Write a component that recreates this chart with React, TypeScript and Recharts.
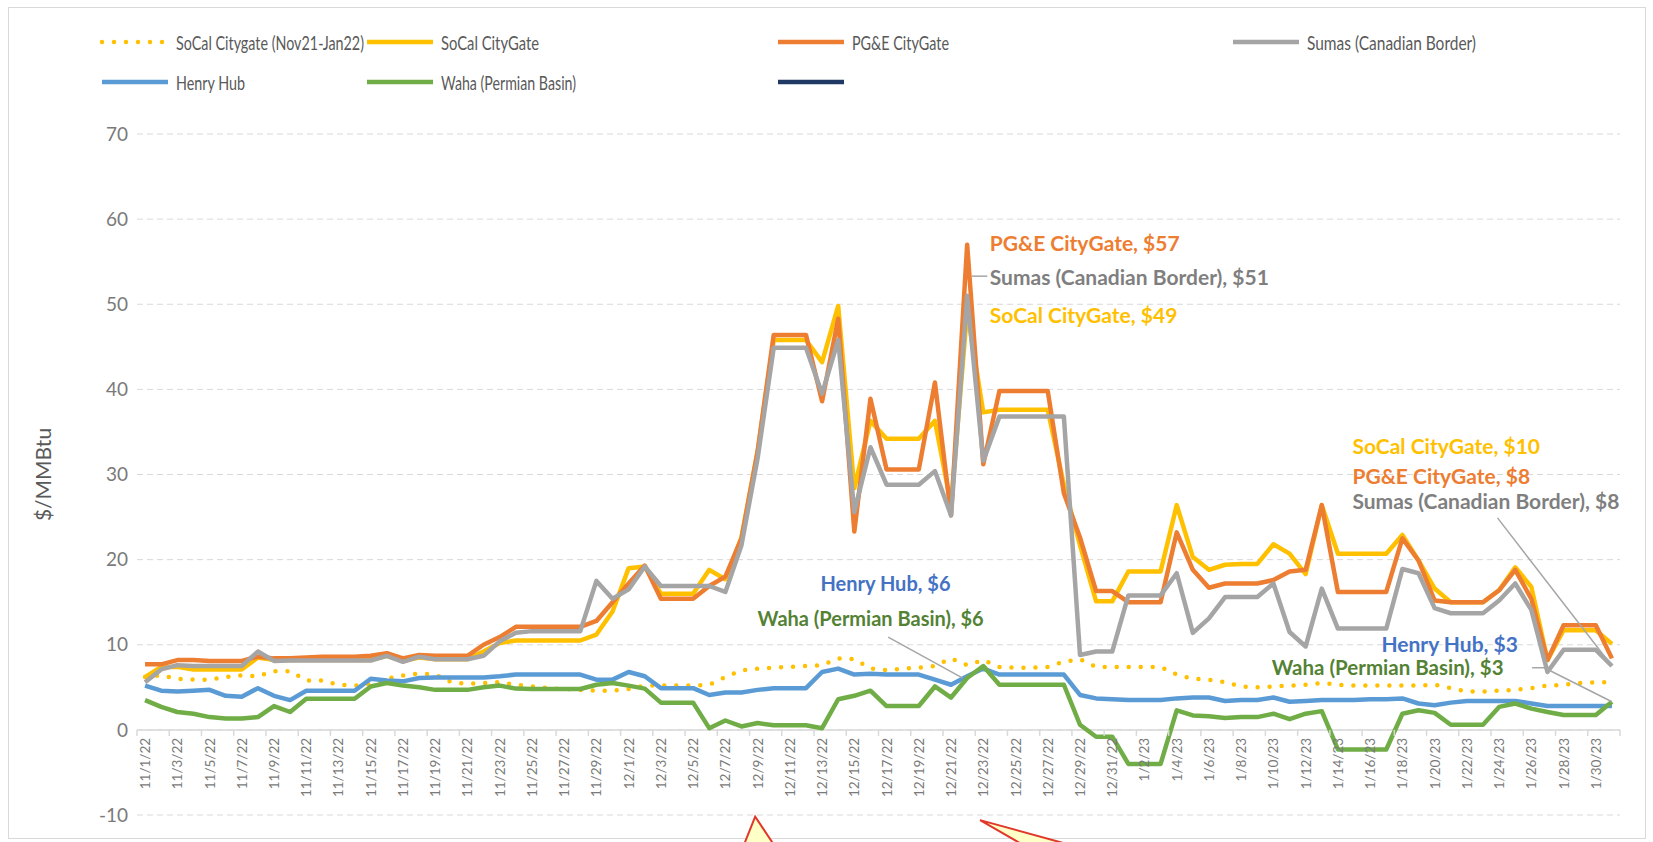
import React from 'react';
import { LineChart, Line, XAxis, YAxis, CartesianGrid, ReferenceLine, ReferenceDot } from 'recharts';

const dates = [
  '11/1/22','11/2/22','11/3/22','11/4/22','11/5/22','11/6/22','11/7/22','11/8/22','11/9/22','11/10/22',
  '11/11/22','11/12/22','11/13/22','11/14/22','11/15/22','11/16/22','11/17/22','11/18/22','11/19/22','11/20/22',
  '11/21/22','11/22/22','11/23/22','11/24/22','11/25/22','11/26/22','11/27/22','11/28/22','11/29/22','11/30/22',
  '12/1/22','12/2/22','12/3/22','12/4/22','12/5/22','12/6/22','12/7/22','12/8/22','12/9/22','12/10/22',
  '12/11/22','12/12/22','12/13/22','12/14/22','12/15/22','12/16/22','12/17/22','12/18/22','12/19/22','12/20/22',
  '12/21/22','12/22/22','12/23/22','12/24/22','12/25/22','12/26/22','12/27/22','12/28/22','12/29/22','12/30/22',
  '12/31/22','1/1/23','1/2/23','1/3/23','1/4/23','1/5/23','1/6/23','1/7/23','1/8/23','1/9/23',
  '1/10/23','1/11/23','1/12/23','1/13/23','1/14/23','1/15/23','1/16/23','1/17/23','1/18/23','1/19/23',
  '1/20/23','1/21/23','1/22/23','1/23/23','1/24/23','1/25/23','1/26/23','1/27/23','1/28/23','1/29/23',
  '1/30/23','1/31/23',
];

const socalPrior = [
  6.2,6.4,6.0,5.9,5.9,6.2,6.4,6.3,6.9,6.9,
  5.8,5.8,5.3,5.2,5.4,6.0,6.4,6.6,6.5,5.6,
  5.4,5.5,5.6,5.3,5.1,4.9,4.8,4.7,4.6,4.6,
  4.8,5.2,5.2,5.2,5.2,5.3,6.2,7.0,7.2,7.3,
  7.4,7.5,7.6,8.4,8.3,7.2,7.0,7.2,7.3,7.5,
  8.4,7.6,8.2,7.4,7.3,7.3,7.4,8.0,8.3,7.4,
  7.4,7.4,7.4,7.4,6.5,6.0,5.9,5.6,5.1,5.0,
  5.1,5.2,5.3,5.5,5.3,5.2,5.2,5.2,5.2,5.2,
  5.3,4.9,4.5,4.5,4.6,4.7,4.9,5.2,5.3,5.5,
  5.6,5.6,
];

const socal = [
  6.2,7.4,7.4,7.1,7.1,7.1,7.1,8.5,8.2,8.2,
  8.2,8.2,8.2,8.2,8.2,8.7,8.1,8.5,8.3,8.3,
  8.3,9.2,10.2,10.5,10.5,10.5,10.5,10.5,11.2,13.9,
  19.0,19.2,16.0,16.0,16.0,18.8,17.7,22.6,32.7,45.8,
  45.8,45.8,43.2,49.8,28.4,36.3,34.2,34.2,34.2,36.3,
  26.4,49.2,37.3,37.6,37.6,37.6,37.6,28.8,21.7,15.1,
  15.1,18.6,18.6,18.6,26.4,20.3,18.8,19.4,19.5,19.5,
  21.8,20.7,18.3,26.4,20.7,20.7,20.7,20.7,22.9,19.9,
  16.6,15.0,15.0,15.0,16.4,19.1,16.8,8.2,11.7,11.7,
  11.7,10.1,
];

const pge = [
  7.7,7.7,8.2,8.2,8.1,8.1,8.1,8.6,8.4,8.4,
  8.5,8.6,8.6,8.6,8.7,9.0,8.4,8.8,8.7,8.7,
  8.7,10.0,10.9,12.1,12.1,12.1,12.1,12.1,12.8,15.0,
  17.2,19.3,15.4,15.4,15.4,16.9,18.0,22.5,32.7,46.4,
  46.4,46.4,38.6,48.3,23.3,38.9,30.6,30.6,30.6,40.8,
  25.2,57.0,31.2,39.8,39.8,39.8,39.8,27.8,22.6,16.3,
  16.3,15.0,15.0,15.0,23.2,18.8,16.7,17.2,17.2,17.2,
  17.6,18.6,18.8,26.4,16.2,16.2,16.2,16.2,22.5,19.9,
  15.2,15.0,15.0,15.0,16.4,18.8,15.4,8.2,12.3,12.3,
  12.3,8.4,
];

const sumas = [
  5.6,7.1,7.6,7.5,7.5,7.5,7.5,9.2,8.1,8.15,
  8.15,8.15,8.15,8.15,8.15,8.7,8.0,8.6,8.3,8.3,
  8.3,8.7,10.4,11.4,11.6,11.6,11.6,11.6,17.5,15.4,
  16.5,19.2,16.9,16.9,16.9,16.9,16.2,21.7,31.9,44.9,
  44.9,44.9,39.5,45.8,25.6,33.2,28.8,28.8,28.8,30.4,
  25.2,51.0,31.6,36.8,36.8,36.8,36.8,36.8,8.8,9.2,
  9.2,15.8,15.8,15.8,18.4,11.4,13.1,15.6,15.6,15.6,
  17.2,11.5,9.8,16.6,11.9,11.9,11.9,11.9,18.9,18.4,
  14.3,13.7,13.7,13.7,15.2,17.2,14.1,6.8,9.4,9.4,
  9.4,7.5,
];

const henryHub = [
  5.2,4.6,4.5,4.6,4.7,4.0,3.9,4.9,4.0,3.5,
  4.6,4.6,4.6,4.6,6.0,5.8,5.7,6.1,6.15,6.15,
  6.15,6.15,6.3,6.5,6.5,6.5,6.5,6.5,5.9,5.9,
  6.8,6.3,4.9,4.9,4.9,4.1,4.4,4.4,4.7,4.9,
  4.9,4.9,6.8,7.2,6.5,6.6,6.5,6.5,6.5,5.9,
  5.3,6.3,7.2,6.5,6.5,6.5,6.5,6.5,4.1,3.7,
  3.6,3.5,3.5,3.5,3.7,3.8,3.8,3.4,3.5,3.5,
  3.8,3.3,3.4,3.5,3.5,3.5,3.6,3.6,3.7,3.1,
  2.9,3.2,3.4,3.4,3.4,3.4,3.1,2.8,2.8,2.8,
  2.8,2.8,
];

const waha = [
  3.5,2.7,2.1,1.9,1.5,1.35,1.35,1.5,2.8,2.1,
  3.65,3.65,3.65,3.65,5.1,5.5,5.2,5.0,4.7,4.7,
  4.7,5.0,5.2,4.85,4.8,4.8,4.8,4.8,5.3,5.5,
  5.2,4.85,3.2,3.2,3.2,0.2,1.1,0.4,0.8,0.55,
  0.55,0.55,0.2,3.6,4.0,4.6,2.8,2.8,2.8,5.1,
  3.8,6.1,7.5,5.3,5.3,5.3,5.3,5.3,0.6,-0.8,
  -0.8,-4.0,-4.0,-4.0,2.3,1.7,1.6,1.4,1.5,1.5,
  1.9,1.25,1.9,2.2,-2.3,-2.3,-2.3,-2.3,1.9,2.3,
  2.0,0.6,0.6,0.6,2.7,3.1,2.5,2.1,1.75,1.75,
  1.75,3.3,
];

const yTicks = [-10, 0, 10, 20, 30, 40, 50, 60, 70];
const xTickIdx = dates.map((_, i) => i).filter((i) => i % 2 === 0);

const data = dates.map((date, i) => ({
  i,
  date,
  socalPrior: socalPrior[i],
  socal: socal[i],
  pge: pge[i],
  sumas: sumas[i],
  henryHub: henryHub[i],
  waha: waha[i],
}));

const C = {
  yellow: '#FFC000',
  orange: '#ED7D31',
  gray: '#A5A5A5',
  blue: '#5B9BD5',
  green: '#70AD47',
  navy: '#203864',
  text: '#595959',
  tick: '#7A7A7A',
  grid: '#D9D9D9',
};

const W = 1653;
const H = 842;
const M = { top: 134, right: 33, bottom: 0, left: 0 };
const Y_AXIS_W = 137;
const X_AXIS_H = 27;
const PLOT_H = H - M.top - M.bottom - X_AXIS_H;
const PLOT_W = W - M.left - M.right - Y_AXIS_W;
const Y_MIN = -10;
const Y_MAX = 70;
const zeroY = M.top + (PLOT_H * (Y_MAX - 0)) / (Y_MAX - Y_MIN);
const halfBand = PLOT_W / dates.length / 2;
const FONT = 'Lato, Carlito, Calibri, "Open Sans", sans-serif';
const LINE_W = 4.5;

const XTick = (props: any) => {
  const { x, payload } = props;
  const i = payload.value as number;
  const ty = zeroY + 8;
  return (
    <g>
      <line x1={x - halfBand} x2={x - halfBand} y1={zeroY} y2={zeroY + 6} stroke={C.grid} strokeWidth={1.5} />
      {i === dates.length - 2 ? (
        <line x1={x + 3 * halfBand} x2={x + 3 * halfBand} y1={zeroY} y2={zeroY + 6} stroke={C.grid} strokeWidth={1.5} />
      ) : null}
      <text
        x={x}
        y={ty}
        transform={`rotate(-90, ${x}, ${ty})`}
        textAnchor="end"
        dominantBaseline="central"
        fontSize={13.5}
        fill={C.tick}
        fontFamily={FONT}
      >
        {dates[i]}
      </text>
    </g>
  );
};

type Annot = { x: number; y: number; text: string; color: string; size: number };
const annotations: Annot[] = [
  { x: 52.4, y: 57.3, text: 'PG&E CityGate, $57', color: '#ED7D31', size: 21 },
  { x: 52.4, y: 53.3, text: 'Sumas (Canadian Border), $51', color: '#7F7F7F', size: 21 },
  { x: 52.4, y: 48.8, text: 'SoCal CityGate, $49', color: '#FFC000', size: 21 },
  { x: 74.9, y: 33.4, text: 'SoCal CityGate, $10', color: '#FFC000', size: 21 },
  { x: 74.9, y: 29.9, text: 'PG&E CityGate, $8', color: '#ED7D31', size: 21 },
  { x: 74.9, y: 26.9, text: 'Sumas (Canadian Border), $8', color: '#7F7F7F', size: 21 },
  { x: 41.9, y: 17.3, text: 'Henry Hub, $6', color: '#4472C4', size: 20 },
  { x: 38.0, y: 13.1, text: 'Waha (Permian Basin), $6', color: '#548235', size: 20 },
  { x: 76.7, y: 10.2, text: 'Henry Hub, $3', color: '#4472C4', size: 21 },
  { x: 69.9, y: 7.35, text: 'Waha (Permian Basin), $3', color: '#548235', size: 20.5 },
];

const leaders = [
  [{ x: 51.3, y: 53.3 }, { x: 52.25, y: 53.3 }],
  [{ x: 46.1, y: 10.9 }, { x: 50.7, y: 6.1 }],
  [{ x: 83.9, y: 24.9 }, { x: 91, y: 7.5 }],
  [{ x: 86.05, y: 7.3 }, { x: 86.8, y: 7.3 }],
  [{ x: 86.8, y: 7.3 }, { x: 91, y: 3.3 }],
];

const callouts = [
  { x: 37.85, y: -10.2, pts: '0,0 -12,30 20,30' },
  { x: 51.8, y: -10.6, pts: '0,0 80,22 52,30' },
];

type LegendItem = { label: string; color: string; dotted?: boolean; col: number; row: number; w: number };
const legendItems: LegendItem[] = [
  { label: 'SoCal Citygate (Nov21-Jan22)', color: C.yellow, dotted: true, col: 102, row: 42, w: 188 },
  { label: 'SoCal CityGate', color: C.yellow, col: 367, row: 42, w: 98 },
  { label: 'PG&E CityGate', color: C.orange, col: 778, row: 42, w: 97 },
  { label: 'Sumas (Canadian Border)', color: C.gray, col: 1233, row: 42, w: 169 },
  { label: 'Henry Hub', color: C.blue, col: 102, row: 82, w: 69 },
  { label: 'Waha (Permian Basin)', color: C.green, col: 367, row: 82, w: 135 },
  { label: '', color: C.navy, col: 778, row: 82, w: 0 },
];

const YTitle = (props: any) => {
  const vb = props.viewBox || { x: 0, y: M.top, width: Y_AXIS_W, height: PLOT_H };
  const cx = vb.x + 42;
  const cy = vb.y + vb.height / 2;
  return (
    <text x={cx} y={cy} transform={`rotate(-90, ${cx}, ${cy})`} textAnchor="middle" dominantBaseline="central" fontSize={21} fill={C.text} fontFamily={FONT}>
      $/MMBtu
    </text>
  );
};

export default function App() {
  return (
    <div style={{ position: 'absolute', left: 0, top: 0, width: W, height: H, background: '#fff', overflow: 'hidden' }}>
      <div style={{ position: 'absolute', left: 8, top: 7, width: 1638, height: 832, border: '1px solid #D9D9D9', boxSizing: 'border-box' }} />
      <svg width={W} height={110} style={{ position: 'absolute', left: 0, top: 0 }}>
        {legendItems.map((it, k) => (
          <g key={k}>
            <line
              x1={it.col}
              x2={it.col + 66}
              y1={it.row}
              y2={it.row}
              stroke={it.color}
              strokeWidth={4.5}
              strokeDasharray={it.dotted ? '0 12' : undefined}
              strokeLinecap={it.dotted ? 'round' : 'butt'}
            />
            {it.label ? (
              <text
                x={it.col + 74}
                y={it.row}
                dominantBaseline="central"
                fontSize={19}
                fill={C.text}
                fontFamily={FONT}
                textLength={it.w}
                lengthAdjust="spacingAndGlyphs"
              >
                {it.label}
              </text>
            ) : null}
          </g>
        ))}
      </svg>
      <div style={{ position: 'absolute', left: 0, top: 0 }}>
        <LineChart width={W} height={H} data={data} margin={M}>
          <CartesianGrid vertical={false} stroke={C.grid} strokeDasharray="6 4" />
          <XAxis
            type="number"
            dataKey="i"
            domain={[-0.5, dates.length - 0.5]}
            ticks={xTickIdx}
            interval={0}
            height={X_AXIS_H}
            axisLine={false}
            tickLine={false}
            tick={(p: any) => <XTick {...p} />}
          />
          <YAxis
            type="number"
            domain={[Y_MIN, Y_MAX]}
            ticks={yTicks}
            width={Y_AXIS_W}
            axisLine={false}
            tickLine={false}
            tickSize={0}
            tickMargin={9}
            tick={{ fontSize: 19, fill: C.tick, fontFamily: FONT }}
            label={{ content: (p: any) => <YTitle {...p} /> }}
          />
          <ReferenceLine y={0} stroke={C.grid} strokeWidth={1.5} />
          <Line type="linear" dataKey="socalPrior" stroke={C.yellow} strokeWidth={4.5} strokeDasharray="0 12" strokeLinecap="round" dot={false} isAnimationActive={false} />
          <Line type="linear" dataKey="socal" stroke={C.yellow} strokeWidth={LINE_W} strokeLinejoin="round" dot={false} isAnimationActive={false} />
          <Line type="linear" dataKey="pge" stroke={C.orange} strokeWidth={LINE_W} strokeLinejoin="round" dot={false} isAnimationActive={false} />
          <Line type="linear" dataKey="sumas" stroke={C.gray} strokeWidth={LINE_W} strokeLinejoin="round" dot={false} isAnimationActive={false} />
          <Line type="linear" dataKey="henryHub" stroke={C.blue} strokeWidth={LINE_W} strokeLinejoin="round" dot={false} isAnimationActive={false} />
          <Line type="linear" dataKey="waha" stroke={C.green} strokeWidth={LINE_W} strokeLinejoin="round" dot={false} isAnimationActive={false} />
          {leaders.map((seg, k) => (
            <ReferenceLine key={`l${k}`} segment={seg} stroke="#A6A6A6" strokeWidth={1.5} ifOverflow="visible" />
          ))}
          {annotations.map((a, k) => (
            <ReferenceDot
              key={`a${k}`}
              x={a.x}
              y={a.y}
              r={0}
              ifOverflow="visible"
              shape={(p: any) => (
                <text x={p.cx} y={p.cy} dominantBaseline="central" fontSize={a.size} fontWeight={700} fill={a.color} fontFamily={FONT}>
                  {a.text}
                </text>
              )}
            />
          ))}
          {callouts.map((c, k) => (
            <ReferenceDot
              key={`c${k}`}
              x={c.x}
              y={c.y}
              r={1}
              ifOverflow="visible"
              shape={(p: any) => (
                <polygon points={c.pts} transform={`translate(${p.cx}, ${p.cy})`} fill="#FFFFC8" stroke="#E0392B" strokeWidth={2} />
              )}
            />
          ))}
        </LineChart>
      </div>
    </div>
  );
}
